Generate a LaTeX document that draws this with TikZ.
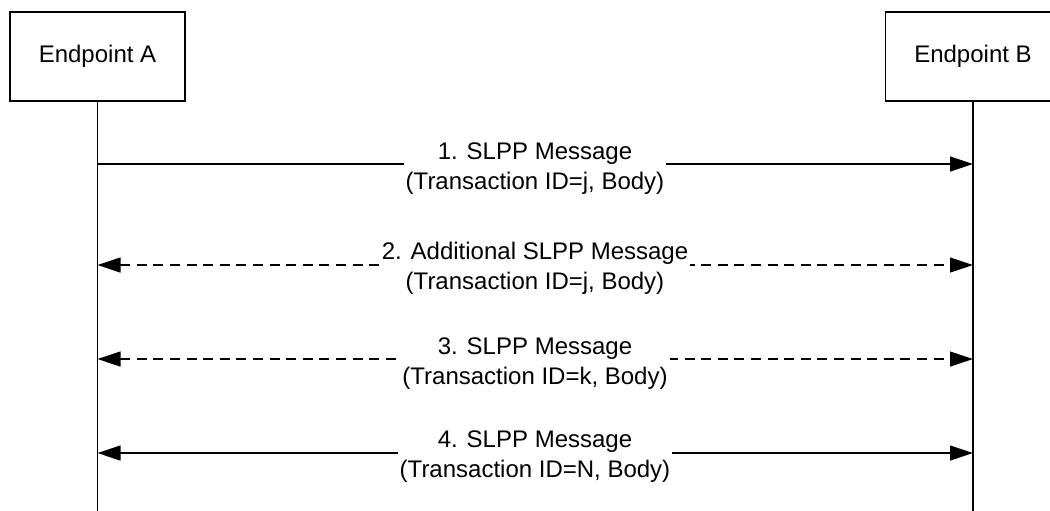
\documentclass[tikz,border=0pt]{standalone}
\usepackage{fontspec}
\setmainfont{Liberation Sans}
\usetikzlibrary{arrows.meta}
\begin{document}
\begin{tikzpicture}[x=0.5pt,y=-0.5pt,
  every node/.style={font=\fontsize{12}{15}\selectfont},
  entity/.style={draw,line width=0.6pt,minimum width=87.5pt,minimum height=44.5pt,inner sep=0pt},
  life/.style={line width=0.6pt},
  msg/.style={line width=0.6pt,arrows={-Triangle[length=11.5pt,width=7.5pt]}},
  bimsg/.style={line width=0.6pt,arrows={Triangle[length=11.5pt,width=7.5pt]-Triangle[length=11.5pt,width=7.5pt]}},
  dmsg/.style={bimsg,dash pattern=on 5pt off 3.3pt},
  lbl/.style={fill=white,inner xsep=1pt,inner ysep=0pt,align=center,anchor=north}
]
\clip (0,0) rectangle (1050,510);
\fill[white] (0,0) rectangle (1050,510);
\node[entity] (A) at (97.5,56.5) {Endpoint A};
\node[entity] (B) at (973,56.5) {Endpoint B};
\coordinate (Aend) at (97.5,515);
\coordinate (Bend) at (973,515);
\draw[life] (A.south) -- (A.south |- Aend);
\draw[life] (B.south) -- (B.south |- Bend);
% message 1
\coordinate (a1) at (97.5,164);
\coordinate (b1) at (973,164);
\draw[msg] (a1) -- (b1);
\node[lbl] (l1) at (535,138) {\strut 1. SLPP Message\\\strut (Transaction ID=j, Body)};
% message 2
\coordinate (a2) at (97.5,265);
\coordinate (b2) at (973,265);
\draw[dmsg] (a2) -- (b2);
\node[lbl] (l2) at (535,238) {\strut 2. Additional SLPP Message\\\strut (Transaction ID=j, Body)};
% message 3
\coordinate (a3) at (97.5,359);
\coordinate (b3) at (973,359);
\draw[dmsg] (a3) -- (b3);
\node[lbl] (l3) at (535,333) {\strut 3. SLPP Message\\\strut (Transaction ID=k, Body)};
% message 4
\coordinate (a4) at (97.5,453);
\coordinate (b4) at (973,453);
\draw[bimsg] (a4) -- (b4);
\node[lbl] (l4) at (535,426) {\strut 4. SLPP Message\\\strut (Transaction ID=N, Body)};
\end{tikzpicture}
\end{document}
